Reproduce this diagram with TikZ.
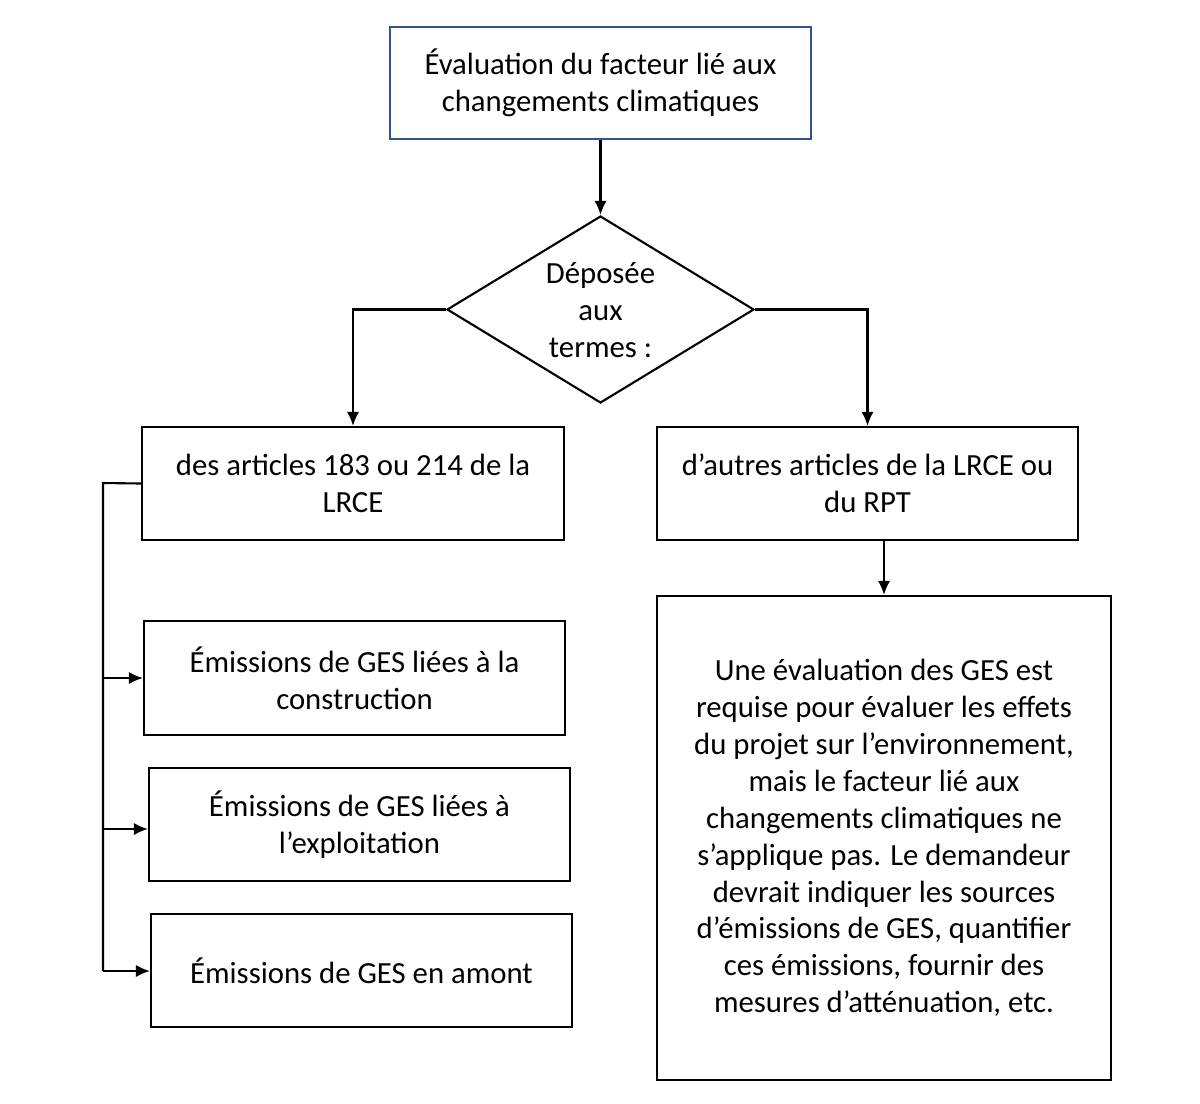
\documentclass[tikz,border=0pt]{standalone}
\usepackage{fontspec}
\setmainfont{Carlito}
\usetikzlibrary{arrows.meta,shapes.geometric}
\begin{document}
\begin{tikzpicture}[x=0.02cm,y=-0.02cm,
  box/.style={draw,line width=1.2pt,align=center,font=\fontsize{17.5}{21}\selectfont,inner sep=0pt},
  arr/.style={-{Latex[length=8pt,width=7pt]},line width=1.2pt}]
\useasboundingbox (0,0) rectangle (1200,1103);
\node[box,draw={rgb,255:red,47;green,84;blue,150},minimum width=421*0.02cm,minimum height=112*0.02cm] (top) at (600.5,83) {Évaluation du facteur lié aux\\changements climatiques};
\node[box,diamond,minimum width=307*0.02cm,minimum height=187*0.02cm,aspect=1.64] (dia) at (600.5,309.5) {};
\node[align=center,font=\fontsize{17.5}{21}\selectfont] at (600.5,310) {Déposée\\aux\\termes :};
\node[box,minimum width=422*0.02cm,minimum height=113*0.02cm] (L) at (353,483.5) {des articles 183 ou 214 de la\\LRCE};
\node[box,minimum width=421*0.02cm,minimum height=113*0.02cm] (R) at (867.5,483.5) {d’autres articles de la LRCE ou\\du RPT};
\node[box,minimum width=421*0.02cm,minimum height=114*0.02cm] (E1) at (354.5,678) {Émissions de GES liées à la\\construction};
\node[box,minimum width=421*0.02cm,minimum height=113*0.02cm] (E2) at (359.5,824.5) {Émissions de GES liées à\\l’exploitation};
\node[box,minimum width=421*0.02cm,minimum height=113*0.02cm] (E3) at (361.5,970.5) {Émissions de GES en amont};
\node[box,minimum width=454*0.02cm,minimum height=484*0.02cm] (B) at (884,838) {Une évaluation des GES est\\requise pour évaluer les effets\\du projet sur l’environnement,\\mais le facteur lié aux\\changements climatiques ne\\s’applique pas. Le demandeur\\devrait indiquer les sources\\d’émissions de GES, quantifier\\ces émissions, fournir des\\mesures d’atténuation, etc.};
\draw[arr] (top.south) -- (dia.north);
\draw[arr] (dia.west) -| (L.north);
\draw[arr] (dia.east) -| (R.north);
\draw[arr] (R.south -| B.north) -- (B.north);
\coordinate (c) at (103,483);
\draw[line width=1.2pt] (L.west) -- (c) -- (103,971);
\draw[arr] (103,678) -- (E1.west);
\draw[arr] (103,829) -- (E2.west |- 0,829);
\draw[arr] (103,971) -- (E3.west |- 0,971);
\end{tikzpicture}
\end{document}
